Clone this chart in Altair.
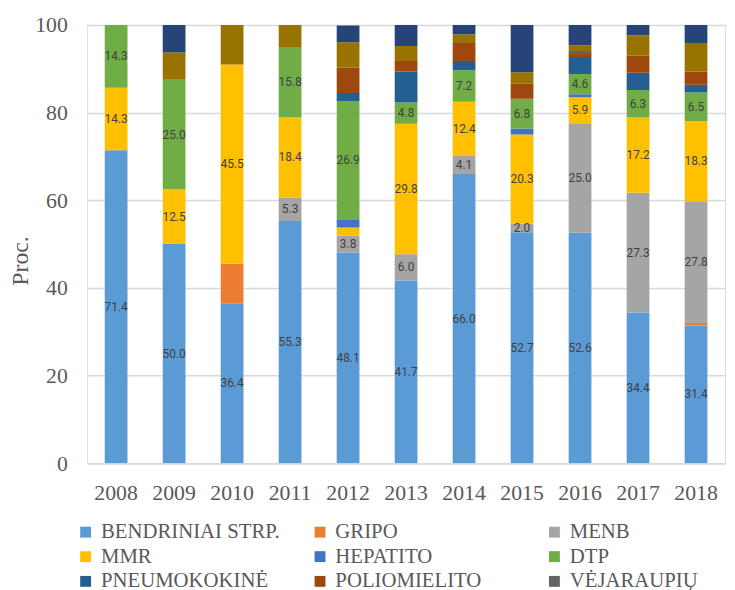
import altair as alt
import pandas as pd

years = ["2008", "2009", "2010", "2011", "2012", "2013", "2014", "2015", "2016", "2017", "2018"]

series = ["BENDRINIAI STRP.", "GRIPO", "MENB", "MMR", "HEPATITO", "DTP",
          "PNEUMOKOKINĖ", "POLIOMIELITO", "VĖJARAUPIŲ", "KITA 1", "KITA 2"]
colors = ["#5B9BD5", "#ED7D31", "#A5A5A5", "#FFC000", "#4472C4", "#70AD47",
          "#255E91", "#9E480E", "#636363", "#997300", "#264478"]

bendriniai   = [71.4, 50.0, 36.4, 55.3, 48.1, 41.7, 66.0, 52.7, 52.6, 34.4, 31.4]
gripo        = [0, 0, 9.1, 0, 0, 0, 0, 0, 0, 0, 0.6]
menb         = [0, 0, 0, 5.3, 3.8, 6.0, 4.1, 2.0, 25.0, 27.3, 27.8]
mmr          = [14.3, 12.5, 45.5, 18.4, 1.9, 29.8, 12.4, 20.3, 5.9, 17.2, 18.3]
hepatito     = [0, 0, 0, 0, 1.9, 0, 0, 1.4, 0.7, 0, 0]
dtp          = [14.3, 25.0, 0, 15.8, 26.9, 4.8, 7.2, 6.8, 4.6, 6.3, 6.5]
pneumokokine = [0, 0, 0, 0, 1.9, 7.1, 2.1, 0, 3.9, 3.9, 1.8]
poliomielito = [0, 0, 0, 0, 5.8, 2.4, 4.1, 3.4, 0.7, 3.9, 3.0]
vejaraupiu   = [0, 0, 0, 0, 0, 0, 0, 0, 0.7, 0, 0]
kita1        = [0, 6.25, 9.0, 5.2, 5.8, 3.4, 2.0, 2.6, 1.3, 4.7, 6.5]
kita2        = [0, 6.25, 0, 0, 3.8, 4.8, 2.1, 10.8, 4.6, 2.3, 4.1]

labelled = ["BENDRINIAI STRP.", "MENB", "MMR", "DTP"]

all_vals = [bendriniai, gripo, menb, mmr, hepatito, dtp, pneumokokine,
            poliomielito, vejaraupiu, kita1, kita2]

rows = []
for si, (name, vals) in enumerate(zip(series, all_vals)):
    for y, v in zip(years, vals):
        rows.append({
            "year": y, "series": name, "order": si, "value": v,
            "label": (f"{v:.1f}" if (name in labelled and v >= 2.0) else ""),
        })
df = pd.DataFrame(rows)

FONT = "Liberation Serif"

x_enc = alt.X("year:N", sort=years, title=None,
              scale=alt.Scale(paddingInner=0.6, paddingOuter=0.3),
              axis=alt.Axis(labelAngle=0, labelFont=FONT, labelFontSize=22,
                            labelColor="#595959", labelPadding=20, ticks=False,
                            domain=True, domainColor="#D9D9D9", domainWidth=1.5))

y_scale = alt.Scale(domain=[0, 100], nice=False)

bars = alt.Chart(df).mark_bar(size=23, clip=True).encode(
    x=x_enc,
    y=alt.Y("value:Q", stack="zero", scale=y_scale, title="Proc.",
            axis=alt.Axis(values=[0, 20, 40, 60, 80, 100], labelFont=FONT,
                          labelFontSize=22, labelColor="#595959", labelPadding=20,
                          ticks=False, domain=False, grid=True,
                          gridColor="#D9D9D9", gridWidth=1.5,
                          titleFont=FONT, titleFontSize=24, titleFontWeight="normal",
                          titleColor="#595959", titleAngle=-90,
                          titleX=-67, titleY=238, titleAlign="center",
                          titleBaseline="middle")),
    color=alt.Color("series:N", scale=alt.Scale(domain=series, range=colors),
                    legend=alt.Legend(values=series[:9], title=None, orient="none",
                                      legendX=-12, legendY=502, columns=3,
                                      direction="horizontal",
                                      gridAlign="all", columnPadding=30,
                                      rowPadding=3, symbolType="square",
                                      symbolSize=121, symbolStrokeWidth=0,
                                      labelFont=FONT, labelFontSize=21,
                                      labelColor="#595959", labelOffset=5,
                                      labelLimit=300)),
    order=alt.Order("order:Q", sort="ascending"),
)

texts = alt.Chart(df).transform_stack(
    stack="value", groupby=["year"], as_=["y0", "y1"],
    sort=[alt.SortField("order", order="ascending")]
).transform_calculate(
    mid="(datum.y0 + datum.y1) / 2"
).transform_filter(
    "datum.label != ''"
).mark_text(font="Roboto", fontSize=12, color="#404040").encode(
    x=alt.X("year:N", sort=years),
    y=alt.Y("mid:Q", scale=y_scale),
    text="label:N",
)

chart = alt.layer(bars, texts).properties(
    width=645, height=443,
    autosize=alt.AutoSizeParams(type="none"),
    padding={"left": 80, "top": 14, "right": 2, "bottom": 125},
).configure_view(stroke=None).configure(background="white")

chart.save("out.html", embed_options={"renderer": "svg", "actions": False})
